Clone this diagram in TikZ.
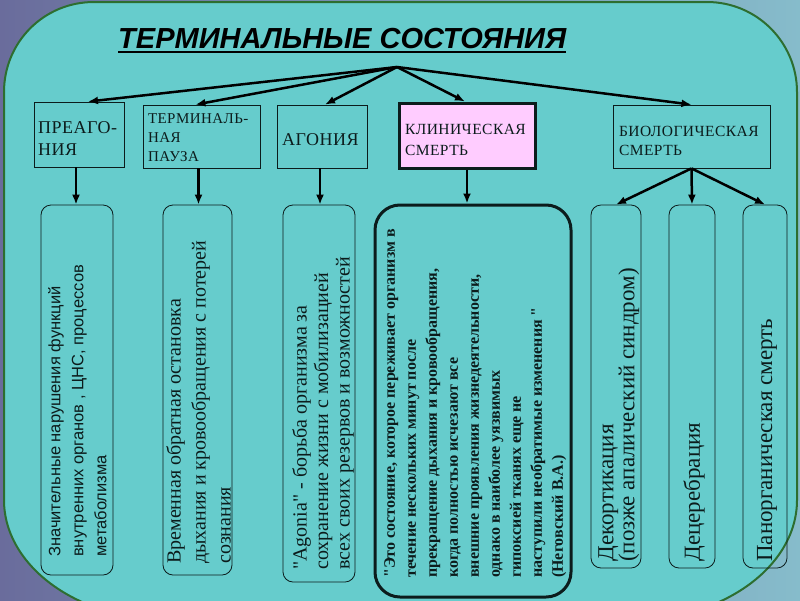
\documentclass[tikz,border=0pt]{standalone}
\usepackage{fontspec}
\setmainfont{Liberation Serif}[Ligatures=TeXOff]
\newfontfamily\arialf{Liberation Sans}[Ligatures=TeXOff]
\newfontfamily\capsf{Liberation Serif}[LetterSpace=3]
\usetikzlibrary{arrows.meta}
\definecolor{bgteal}{HTML}{66CCCC}
\definecolor{framegreen}{HTML}{2D6E30}
\definecolor{pinkbox}{HTML}{FFCCFF}
\definecolor{ink}{HTML}{0C1C1C}
\definecolor{outerA}{HTML}{6A6C9C}
\definecolor{outerB}{HTML}{86BCCB}
\tikzset{
  topbox/.style={draw=ink, line width=0.8pt, inner sep=0pt},
  toptext/.style={inner sep=0pt, align=left, text=ink, anchor=center},
  lowbox/.style={draw=ink, line width=0.8pt, rounded corners=10pt, inner sep=0pt},
  vtext/.style={rotate=90, inner sep=0pt, align=left, text=ink},
  arr/.style={line width=2.5pt, -{Latex[length=10pt,width=8pt]}},
}
\begin{document}
\begin{tikzpicture}[x=1pt,y=-1pt]
\useasboundingbox (0,0) rectangle (800,600);
\shade[left color=outerA, right color=outerB] (0,0) rectangle (800,600);
% big rounded frame
\draw[framegreen, line width=2pt, fill=bgteal]
  (4,92) .. controls (4,42.3) and (43.7,2) .. (94,2)
  -- (707,2) .. controls (756.7,2) and (797,42.3) .. (797,92)
  -- (797,500) .. controls (797,566.3) and (723.1,620) .. (632,620)
  -- (169,620) .. controls (77.9,620) and (4,566.3) .. (4,500) -- cycle;
% title
\node[anchor=base west, inner sep=0pt, font=\arialf\bfseries\itshape\fontsize{29}{31}\selectfont] (title) at (118,48) {ТЕРМИНАЛЬНЫЕ СОСТОЯНИЯ};
\draw[line width=2pt] ([yshift=-4pt]title.base west) -- ([yshift=-4pt]title.base east);
\coordinate (hub) at (397,67);
% top boxes
\node[topbox, minimum width=90pt, minimum height=65pt] (pre) at (79,134.5) {};
\node[topbox, minimum width=117pt, minimum height=63pt] (term) at (201.5,136.5) {};
\node[topbox, minimum width=90pt, minimum height=63pt] (agon) at (322,136.5) {};
\node[topbox, fill=pinkbox, line width=3pt, minimum width=136pt, minimum height=65pt] (clin) at (467,135.5) {};
\node[topbox, minimum width=157pt, minimum height=63pt] (bio) at (691.5,136.5) {};
\node[toptext, text width=82pt, font=\capsf\fontsize{18}{22}\selectfont] (pretx) at ([yshift=-4pt]pre.center) {ПРЕАГО-\\НИЯ};
\node[toptext, text width=107pt, font=\capsf\fontsize{15}{19}\selectfont] (termtx) at ([yshift=-1pt]term.center) {ТЕРМИНАЛЬ-\\НАЯ\\ПАУЗА};
\node[toptext, text width=80pt, font=\capsf\fontsize{18}{22}\selectfont] (agontx) at ([yshift=-3pt]agon.center) {АГОНИЯ};
\node[toptext, text width=124pt, font=\capsf\fontsize{15.5}{21}\selectfont] (clintx) at ([yshift=-4pt]clin.center) {КЛИНИЧЕСКАЯ\\СМЕРТЬ};
\node[toptext, text width=145pt, font=\capsf\fontsize{15.5}{19}\selectfont] (biotx) at ([yshift=-4pt]bio.center) {БИОЛОГИЧЕСКАЯ\\СМЕРТЬ};
% arrows from hub
\draw[arr] (hub) -- ([xshift=9pt]pre.north);
\draw[arr] (hub) -- ([xshift=-6pt]term.north);
\draw[arr] (hub) -- ([xshift=3pt]agon.north);
\draw[arr] (hub) -- ([xshift=-2pt]clin.north);
\draw[arr] (hub) -- (bio.north);
% lower boxes
\node[lowbox, minimum width=72pt, minimum height=370pt] (lb1) at (77,390) {};
\node[lowbox, minimum width=69pt, minimum height=370pt] (lb2) at (197.5,390) {};
\node[lowbox, minimum width=72pt, minimum height=377pt] (lb3) at (319,393.5) {};
\node[lowbox, line width=3pt, rounded corners=25pt, minimum width=196pt, minimum height=392pt] (lb4) at (473,401) {};
\node[lowbox, minimum width=50pt, minimum height=363pt] (lba) at (616,386.5) {};
\node[lowbox, minimum width=46pt, minimum height=363pt] (lbb) at (692,386.5) {};
\node[lowbox, minimum width=44pt, minimum height=363pt] (lbc) at (765,386.5) {};
% vertical arrows
\draw[arr] ([xshift=-3pt]pre.south) -- ([xshift=-3pt]pre.south |- lb1.north);
\draw[arr] ([xshift=-3pt]term.south) -- ([xshift=-3pt]term.south |- lb2.north);
\draw[arr] ([xshift=-2pt]agon.south) -- ([xshift=-2pt]agon.south |- lb3.north);
\draw[arr] (clin.south) -- (clin.south |- lb4.north);
\draw[arr] (bio.south) -- (lba.north);
\draw[arr] (bio.south) -- (lbb.north);
\draw[arr] (bio.south) -- (lbc.north);
% rotated texts
\node[vtext, anchor=north west, font=\arialf\fontsize{16.5}{23}\selectfont] (t1) at (48,557) {Значительные нарушения функций\\внутренних органов , ЦНС, процессов\\метаболизма};
\node[vtext, anchor=north west, font=\fontsize{20}{25}\selectfont] (t2) at (166,564) {Временная обратная остановка\\дыхания и кровообращения с потерей\\сознания};
\node[vtext, anchor=north west, font=\fontsize{20}{21.5}\selectfont] (t3) at (292,570) {"Agonia" - борьба организма за\\сохранение жизни с мобилизацией\\всех своих резервов и возможностей};
\node[vtext, anchor=north west, font=\bfseries\fontsize{16}{21}\selectfont] (t4) at (384,578) {"Это состояние, которое переживает организм в\\течение нескольких минут после\\прекращение дыхания и кровообращения,\\когда полностью исчезают все\\внешние проявления жизнедеятельности,\\однако в наиболее уязвимых\\гипоксией тканях еще не\\наступили необратимые изменения "\\(Неговский В.А.)};
\node[vtext, anchor=north west, font=\fontsize{23}{21}\selectfont] (ta) at (598,562) {Декортикация\\(позже апалический синдром)};
\node[vtext, anchor=west, font=\fontsize{23}{21}\selectfont] (tb) at (694,562) {Децеребрация};
\node[vtext, anchor=west, font=\fontsize{23}{21}\selectfont] (tc) at (767,562) {Панорганическая смерть};
\end{tikzpicture}
\end{document}
